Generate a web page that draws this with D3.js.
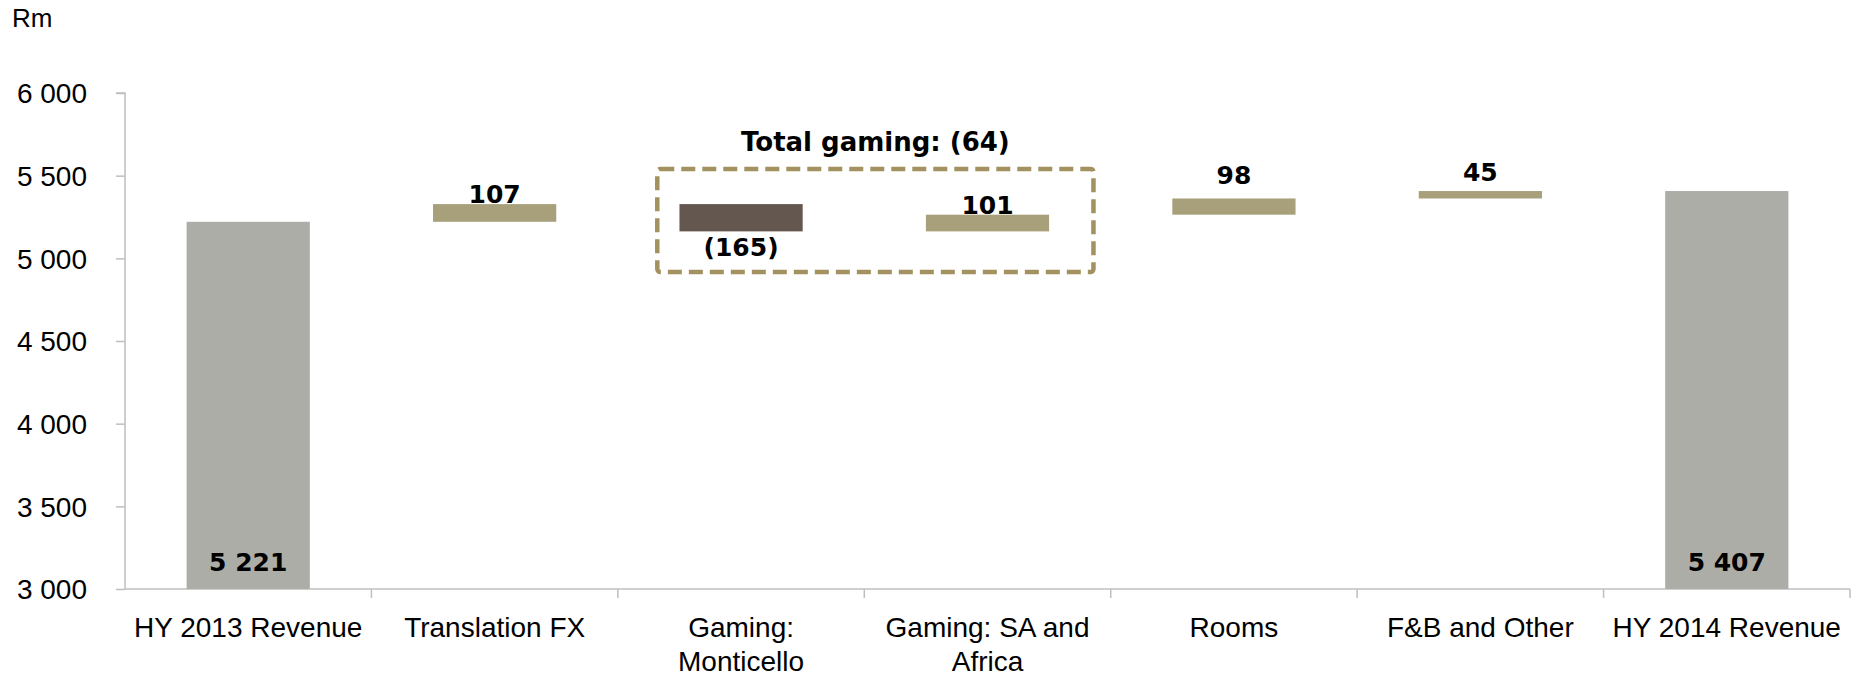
<!DOCTYPE html>
<html>
<head>
<meta charset="utf-8">
<script src="https://cdn.jsdelivr.net/npm/d3@7/dist/d3.min.js"></script>
<style>
  html, body { margin: 0; padding: 0; background: #fff; }
  svg { display: block; }
</style>
</head>
<body>
<svg id="chart" width="1857" height="678"></svg>
<script>
// ---- data ----
const categories = ["HY 2013 Revenue", "Translation FX", "Gaming: Monticello", "Gaming: SA and Africa", "Rooms", "F&B and Other", "HY 2014 Revenue"];
const kinds = ["total", "delta", "delta", "delta", "delta", "delta", "total"];
const values = [5221, 107, -165, 101, 98, 45, 5407];
const yTicks = [3000, 3500, 4000, 4500, 5000, 5500, 6000];
const groupLabel = "Total gaming";
const groupMembers = ["Gaming: Monticello", "Gaming: SA and Africa"];
const unitLabel = "Rm";

// ---- layout (not data) ----
const W = 1857, H = 678;
const plot = { left: 125, right: 1850, top: 93, bottom: 589 };
const labelLift = [0, 1, 0, 1, 14, 10, 0]; // label offsets above bar top for positive deltas
const colors = { total: "#ADADA7", up: "#A89F7B", down: "#645750", box: "#A39160", axis: "#BFBFBF" };

const svg = d3.select("#chart");

const x = d3.scaleBand().domain(categories).range([plot.left, plot.right]).paddingInner(0.5).paddingOuter(0.25);
const y = d3.scaleLinear().domain([3000, 6000]).range([plot.bottom, plot.top]);

// compute waterfall segments
let running = 0;
const bars = categories.map((c, i) => {
  let lo, hi;
  if (kinds[i] === "total") { lo = 3000; hi = values[i]; running = values[i]; }
  else { const start = running; running += values[i]; lo = Math.min(start, running); hi = Math.max(start, running); }
  return { cat: c, kind: kinds[i], value: values[i], lo, hi, i };
});

const fmt = v => {
  const s = d3.format(",")(Math.abs(v)).replace(/,/g, " ");
  return v < 0 ? "(" + s + ")" : s;
};

// y axis
const yAxis = svg.append("g")
  .attr("transform", `translate(${plot.left},0)`)
  .call(d3.axisLeft(y).tickValues(yTicks).tickSize(9).tickPadding(29).tickFormat(d => d3.format(",")(d).replace(/,/g, " ")));
yAxis.select(".domain").attr("stroke", colors.axis).attr("stroke-width", 1.5).attr("d", `M-9,${plot.top}H0V${plot.bottom}`);
yAxis.selectAll(".tick line").attr("stroke", colors.axis).attr("stroke-width", 1.5);
yAxis.selectAll(".tick text").attr("font-family", "'Liberation Sans', Arial, sans-serif").attr("font-size", 28).attr("fill", "#000").attr("dy", "0.35em");

// x axis (ticks at band boundaries)
const step = x.step();
const boundaries = d3.range(categories.length + 1).map(k => plot.left + k * (plot.right - plot.left) / categories.length);
const xg = svg.append("g");
xg.append("line").attr("x1", plot.left).attr("x2", plot.right).attr("y1", plot.bottom).attr("y2", plot.bottom)
  .attr("stroke", colors.axis).attr("stroke-width", 1.5);
xg.selectAll("line.bt").data(boundaries.slice(1)).join("line").attr("class", "bt")
  .attr("x1", d => d).attr("x2", d => d).attr("y1", plot.bottom).attr("y2", plot.bottom + 9)
  .attr("stroke", colors.axis).attr("stroke-width", 1.5);

// category labels with wrapping
const catFont = "'Liberation Sans', Arial, sans-serif";
const measureCtx = document.createElement("canvas").getContext("2d");
measureCtx.font = `28px ${catFont}`;
function wrap(text, width) {
  const words = text.split(" ");
  const lines = []; let cur = "";
  words.forEach(w => {
    const t = cur ? cur + " " + w : w;
    if (measureCtx.measureText(t).width > width && cur) { lines.push(cur); cur = w; } else cur = t;
  });
  lines.push(cur);
  return lines;
}
categories.forEach((c, i) => {
  const cx = plot.left + (i + 0.5) * (plot.right - plot.left) / categories.length;
  const t = svg.append("text").attr("x", cx).attr("y", 637).attr("text-anchor", "middle")
    .attr("font-family", catFont).attr("font-size", 28).attr("fill", "#000");
  wrap(c, 233).forEach((ln, k) => {
    t.append("tspan").attr("x", cx).attr("dy", k === 0 ? 0 : 34).text(ln);
  });
});

// unit label
svg.append("text").attr("x", 12).attr("y", 27).attr("font-family", catFont).attr("font-size", 26).attr("fill", "#000").text(unitLabel);

// value labels
const labFont = "'DejaVu Sans', Verdana, sans-serif";
function labelY(b) {
  if (b.kind === "total") return y(3000) - 18;
  if (b.value < 0) return y(b.lo) + 25;
  return y(b.hi) - labelLift[b.i];
}
function drawLabels(list) {
  const g = svg.append("g").attr("font-family", labFont).attr("font-weight", "bold").attr("font-size", 25).attr("fill", "#000").attr("text-anchor", "middle");
  g.selectAll("text").data(list).join("text")
    .attr("x", b => x(b.cat) + x.bandwidth() / 2)
    .attr("y", labelY)
    .text(b => fmt(b.value));
}
// delta labels sit beneath the bars (bars slightly overlap them)
drawLabels(bars.filter(b => b.kind !== "total"));

// bars
svg.append("g").selectAll("rect").data(bars).join("rect")
  .attr("x", d => x(d.cat))
  .attr("width", x.bandwidth())
  .attr("y", d => y(d.hi))
  .attr("height", d => y(d.lo) - y(d.hi))
  .attr("fill", d => d.kind === "total" ? colors.total : (d.value < 0 ? colors.down : colors.up));

// total labels inside bars
drawLabels(bars.filter(b => b.kind === "total"));

// group box
const gi = groupMembers.map(m => categories.indexOf(m));
const gLeft = x(groupMembers[0]) - 0.09 * step;
const gRight = x(groupMembers[groupMembers.length - 1]) + x.bandwidth() + 0.18 * step;
const gTop = y(5540), gBot = y(4917);
svg.append("rect").attr("x", gLeft).attr("y", gTop).attr("width", gRight - gLeft).attr("height", gBot - gTop)
  .attr("rx", 3).attr("fill", "none").attr("stroke", colors.box).attr("stroke-width", 4.5).attr("stroke-dasharray", "14,7");
const groupSum = d3.sum(gi, k => values[k]);
svg.append("text").attr("x", (gLeft + gRight) / 2).attr("y", 151).attr("text-anchor", "middle")
  .attr("font-family", labFont).attr("font-weight", "bold").attr("font-size", 26).attr("fill", "#000")
  .text(`${groupLabel}: ${fmt(groupSum)}`);
</script>
</body>
</html>
